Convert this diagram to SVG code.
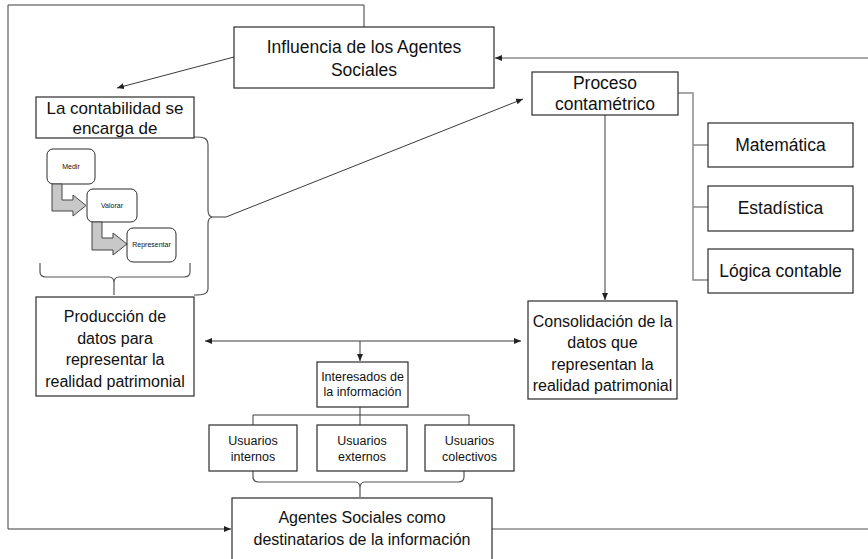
<svg xmlns="http://www.w3.org/2000/svg" width="868" height="559" viewBox="0 0 868 559">
<style>
.box{fill:#fff;stroke:#2b2b2b;stroke-width:1.2}
.rbox{fill:#fff;stroke:#2b2b2b;stroke-width:1}
.bent{fill:#c8c8c8;stroke:#454545;stroke-width:1}
.t{font-family:"Liberation Sans",Arial,sans-serif;fill:#111;text-anchor:middle}
.l{font-size:17.5px}
.lc{font-size:17px}
.m{font-size:16px}
.s{font-size:12.5px}
.xs{font-size:7px}
.ln{fill:none;stroke:#3a3a3a;stroke-width:1}
.gl{fill:none;stroke:#8a8a8a;stroke-width:1.5}
.br{fill:none;stroke:#555;stroke-width:1.2}
</style>
<defs>
<marker id="ah" markerUnits="userSpaceOnUse" markerWidth="8" markerHeight="8" viewBox="0 0 8 8" refX="7" refY="4" orient="auto-start-reverse">
<path d="M0,1 L7,4 L0,7 Z" fill="#222"/>
</marker>
</defs>
<rect width="868" height="559" fill="#fff"/>
<g id="connectors">
<polyline class="ln" points="364,27 364,5 8,5 8,529 231,529" marker-end="url(#ah)"/>
<line class="gl" x1="492" y1="529" x2="868" y2="529"/>
<line class="gl" x1="868" y1="58" x2="495" y2="58" marker-end="url(#ah)"/>
<line class="ln" x1="234" y1="57" x2="117" y2="88" marker-end="url(#ah)"/>
<path class="br" d="M194,137 C204,137 208,138 208,145 L208,210 C208,215 210,217 213,217 C210,217 208,219 208,224 L208,288 C208,294 204,295 194,295"/>
<polyline class="ln" points="213,217 226,217 523,99" marker-end="url(#ah)"/>
<path class="br" d="M40,263 L40,272 C40,276 42,277 46,277 L109,277 C112,277 114,279 114,283 L114,295 M114,283 C114,279 116,277 119,277 L184,277 C188,277 190,276 190,272 L190,263"/>
<line class="ln" x1="605" y1="115" x2="605" y2="300" marker-end="url(#ah)"/>
<polyline class="gl" points="678,93 693,93 693,280 708,280"/>
<line class="gl" x1="693" y1="145" x2="708" y2="145"/>
<line class="gl" x1="693" y1="207" x2="708" y2="207"/>
<line class="ln" x1="205" y1="341" x2="521" y2="341" marker-start="url(#ah)" marker-end="url(#ah)"/>
<line class="ln" x1="360" y1="341" x2="360" y2="361" marker-end="url(#ah)"/>
<polyline class="ln" points="360,407 360,415"/>
<polyline class="ln" points="253,425 253,415 469,415 469,425"/>
<line class="ln" x1="360" y1="415" x2="360" y2="425"/>
<path class="br" d="M253,471 L253,477 C253,481 255,482 259,482 L355,482 C358,482 360,484 360,488 L360,497 M360,488 C360,484 362,482 365,482 L458,482 C462,482 464,481 464,477 L464,471"/>
</g>
<g id="influencia">
<rect class="box" x="234" y="27" width="260" height="61"/>
<text class="t l" x="364" y="53">Influencia de los Agentes</text>
<text class="t l" x="364" y="76">Sociales</text>
</g>
<g id="contabilidad">
<rect class="box" x="36" y="97" width="158" height="41"/>
<text class="t lc" x="115" y="114">La contabilidad se</text>
<text class="t lc" x="115" y="134">encarga de</text>
</g>
<g id="medir">
<rect class="rbox" x="47" y="149" width="48" height="35" rx="6"/>
<text class="t xs" x="71" y="169">Medir</text>
</g>
<g id="flecha1">
<path class="bent" d="M52,184 L62,184 L62,200 L73,200 L73,195 L86,205.5 L73,216 L73,211 L52,211 Z"/>
</g>
<g id="valorar">
<rect class="rbox" x="87" y="189" width="50" height="33" rx="6"/>
<text class="t xs" x="112" y="208">Valorar</text>
</g>
<g id="flecha2">
<path class="bent" d="M92,222 L102,222 L102,238 L113,238 L113,233 L127,244 L113,255 L113,250 L92,250 Z"/>
</g>
<g id="representar">
<rect class="rbox" x="127" y="228" width="49" height="34" rx="6"/>
<text class="t xs" x="151.5" y="247">Representar</text>
</g>
<g id="produccion">
<rect class="box" x="36" y="297" width="158" height="99"/>
<text class="t m" x="115" y="322">Producción de</text>
<text class="t m" x="115" y="344">datos para</text>
<text class="t m" x="115" y="365">representar la</text>
<text class="t m" x="115" y="387">realidad patrimonial</text>
</g>
<g id="proceso">
<rect class="box" x="532" y="72" width="146" height="43"/>
<text class="t l" x="605" y="89">Proceso</text>
<text class="t l" x="605" y="110">contamétrico</text>
</g>
<g id="matematica">
<rect class="box" x="708" y="123" width="145" height="44"/>
<text class="t l" x="780.5" y="151">Matemática</text>
</g>
<g id="estadistica">
<rect class="box" x="708" y="186" width="145" height="45"/>
<text class="t l" x="780.5" y="214">Estadística</text>
</g>
<g id="logica">
<rect class="box" x="708" y="249" width="145" height="44"/>
<text class="t l" x="780.5" y="277">Lógica contable</text>
</g>
<g id="consolidacion">
<rect class="box" x="528" y="301" width="149" height="98"/>
<text class="t m" x="602.5" y="327">Consolidación de la</text>
<text class="t m" x="602.5" y="348">datos que</text>
<text class="t m" x="602.5" y="370">representan la</text>
<text class="t m" x="602.5" y="391">realidad patrimonial</text>
</g>
<g id="interesados">
<rect class="box" x="317" y="362" width="91" height="45"/>
<text class="t s" x="362.5" y="381">Interesados de</text>
<text class="t s" x="362.5" y="396">la información</text>
</g>
<g id="internos">
<rect class="box" x="209" y="425" width="88" height="46"/>
<text class="t s" x="253" y="445">Usuarios</text>
<text class="t s" x="253" y="461">internos</text>
</g>
<g id="externos">
<rect class="box" x="317" y="425" width="90" height="46"/>
<text class="t s" x="362" y="445">Usuarios</text>
<text class="t s" x="362" y="461">externos</text>
</g>
<g id="colectivos">
<rect class="box" x="425" y="425" width="89" height="46"/>
<text class="t s" x="469.5" y="445">Usuarios</text>
<text class="t s" x="469.5" y="461">colectivos</text>
</g>
<g id="agentes">
<rect class="box" x="232" y="498" width="260" height="70"/>
<text class="t m" x="362" y="523">Agentes Sociales como</text>
<text class="t m" x="362" y="545">destinatarios de la información</text>
</g>
</svg>
